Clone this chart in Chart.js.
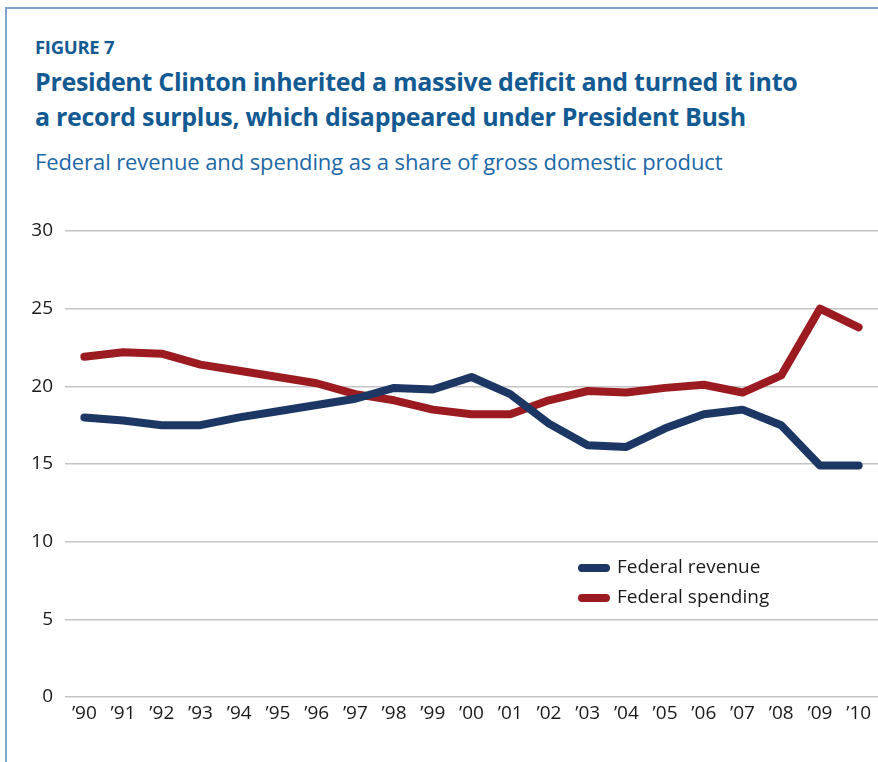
<!DOCTYPE html>
<html>
<head>
<meta charset="utf-8">
<script src="https://cdn.jsdelivr.net/npm/chart.js@4/dist/chart.umd.min.js"></script>
<style>
  html, body { margin: 0; padding: 0; background: #fff; }
  #wrap { position: relative; width: 878px; height: 762px; overflow: hidden; font-family: "Open Sans", sans-serif; }
  #frame { position: absolute; left: 5px; top: 7px; right: -10px; bottom: -10px; border-left: 2px solid #7ea5c9; border-top: 2px solid #7ea5c9; }
  #fig { position: absolute; left: 35px; top: 34px; font-size: 18.5px; font-weight: 700; color: #145a92; letter-spacing: -0.3px; }
  #title { position: absolute; left: 35px; top: 64px; font-size: 25px; line-height: 35px; font-weight: 700; color: #145a92; letter-spacing: -0.3px; white-space: nowrap; }
  #sub { position: absolute; left: 35px; top: 146px; font-size: 22px; color: #1d68a6; white-space: nowrap; letter-spacing: -0.1px; }
  canvas { position: absolute; left: 0; top: 0; }
</style>
</head>
<body>
<div id="wrap">
  <div id="frame"></div>
  <div id="fig">FIGURE 7</div>
  <div id="title">President Clinton inherited a massive deficit and turned it into<br>a record surplus, which disappeared under President Bush</div>
  <div id="sub">Federal revenue and spending as a share of gross domestic product</div>
  <canvas id="chart" width="878" height="762"></canvas>
</div>
<script>
const years = ["\u201990", "\u201991", "\u201992", "\u201993", "\u201994", "\u201995", "\u201996", "\u201997", "\u201998", "\u201999",
  "\u201900", "\u201901", "\u201902", "\u201903", "\u201904", "\u201905", "\u201906", "\u201907", "\u201908", "\u201909", "\u201910"];
const revenue = [18.0, 17.8, 17.5, 17.5, 18.0, 18.4, 18.8, 19.2, 19.9, 19.8, 20.6, 19.5, 17.6, 16.2, 16.1, 17.3, 18.2, 18.5, 17.5, 14.9, 14.9];
const spending = [21.9, 22.2, 22.1, 21.4, 21.0, 20.6, 20.2, 19.5, 19.1, 18.5, 18.2, 18.2, 19.1, 19.7, 19.6, 19.9, 20.1, 19.6, 20.7, 25.0, 23.8];
const yTicks = [0, 5, 10, 15, 20, 25, 30];

const legendPlugin = {
  id: 'insideLegend',
  afterDraw(chart) {
    const ctx = chart.ctx;
    const area = chart.chartArea;
    const x0 = area.left + 513;
    let y = area.top + 337;
    ctx.save();
    chart.data.datasets.forEach(ds => {
      ctx.strokeStyle = ds.borderColor;
      ctx.lineWidth = 8;
      ctx.lineCap = 'round';
      ctx.beginPath();
      ctx.moveTo(x0 + 4, y);
      ctx.lineTo(x0 + 28, y);
      ctx.stroke();
      ctx.fillStyle = '#1a1a1a';
      ctx.font = '19px "Open Sans"';
      ctx.textBaseline = 'middle';
      ctx.fillText(ds.label, x0 + 39, y);
      y += 30;
    });
    ctx.restore();
  }
};

new Chart(document.getElementById('chart').getContext('2d'), {
  type: 'line',
  data: {
    labels: years,
    datasets: [
      { label: 'Federal revenue', data: revenue, borderColor: '#1c3764', borderWidth: 8, borderCapStyle: 'round', borderJoinStyle: 'round', pointRadius: 0, tension: 0 },
      { label: 'Federal spending', data: spending, borderColor: '#9c1b20', borderWidth: 8, borderCapStyle: 'round', borderJoinStyle: 'round', pointRadius: 0, tension: 0 }
    ]
  },
  options: {
    responsive: false,
    animation: false,
    layout: { padding: { top: 231, left: 0, right: 0, bottom: 0 } },
    plugins: { legend: { display: false }, tooltip: { enabled: false } },
    scales: {
      x: {
        offset: true,
        grid: { display: false },
        border: { display: false },
        ticks: { color: '#1a1a1a', font: { family: 'Open Sans', size: 19 }, padding: -3, maxRotation: 0, autoSkip: false },
        afterFit: s => { s.height = 65; }
      },
      y: {
        min: 0, max: 30,
        afterBuildTicks: s => { s.ticks = yTicks.map(v => ({ value: v })); },
        grid: { color: '#c4c4c4', lineWidth: 1.5, drawTicks: false },
        border: { display: false },
        ticks: { color: '#1a1a1a', font: { family: 'Open Sans', size: 19 }, padding: 12 },
        afterFit: s => { s.width = 65; }
      }
    }
  },
  plugins: [legendPlugin]
});
</script>
</body>
</html>
